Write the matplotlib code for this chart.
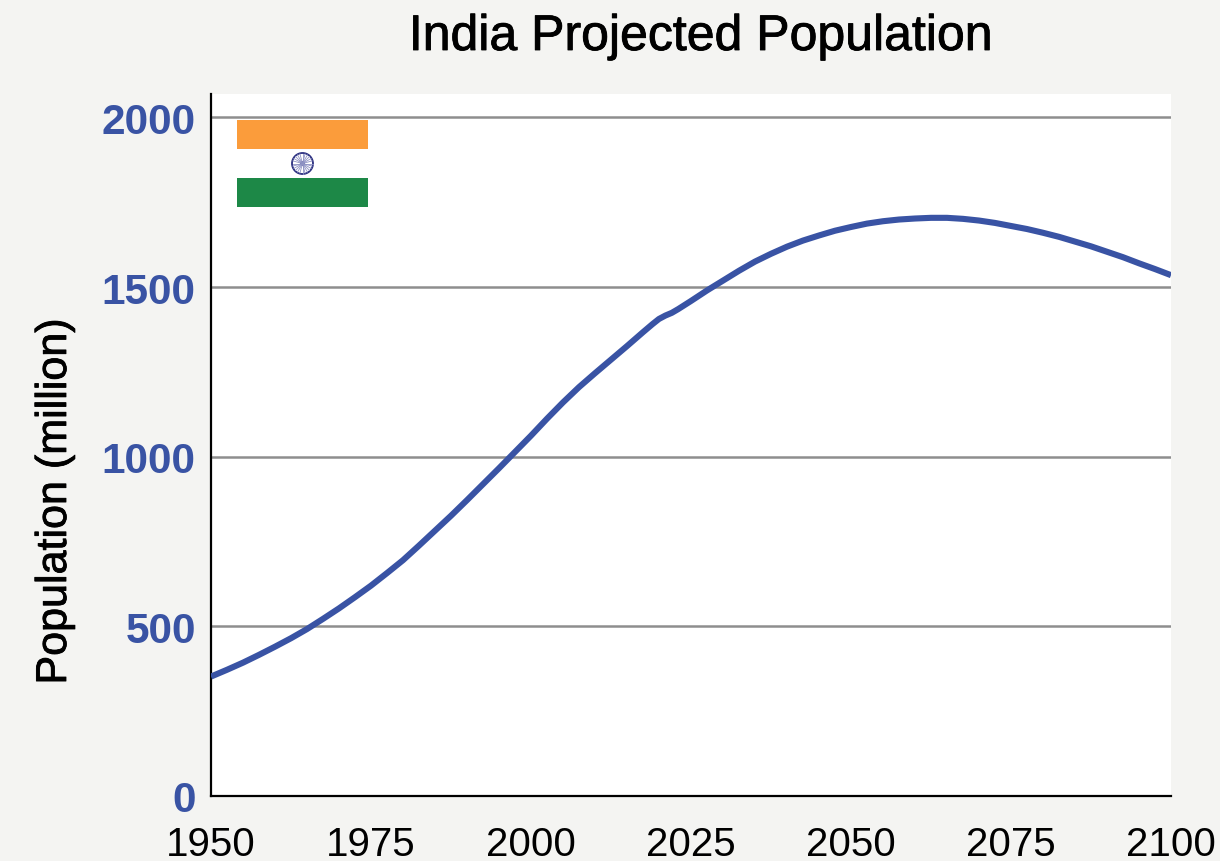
import matplotlib
matplotlib.use("Agg")
import matplotlib.pyplot as plt
import matplotlib.patheffects as pe
from matplotlib.patches import Rectangle, Circle
import numpy as np

years = [1950, 1952.5, 1955, 1957.5, 1960, 1962.5, 1965, 1967.5, 1970, 1972.5, 1975, 1977.5,
         1980, 1982.5, 1985, 1987.5, 1990, 1992.5, 1995, 1997.5, 2000, 2002.5, 2005, 2007.5,
         2010, 2012.5, 2015, 2017.5, 2019, 2020, 2021, 2022, 2023, 2025, 2027.5, 2030, 2032.5,
         2035, 2037.5, 2040, 2042.5, 2045, 2047.5, 2050, 2052.5, 2055, 2057.5, 2060, 2062.5,
         2065, 2067.5, 2070, 2072.5, 2075, 2077.5, 2080, 2082.5, 2085, 2087.5, 2090, 2092.5,
         2095, 2097.5, 2100]
population = [352, 372, 393, 416, 440, 465, 492, 522, 553, 586, 620, 657,
              695, 738, 782, 826, 872, 919, 966, 1014, 1062, 1112, 1160, 1205,
              1246, 1286, 1326, 1367, 1391, 1406, 1416, 1424, 1435, 1459, 1490, 1519, 1548,
              1575, 1598, 1619, 1637, 1652, 1666, 1677, 1687, 1694, 1699, 1702, 1704,
              1704, 1701, 1696, 1689, 1680, 1671, 1660, 1648, 1634, 1620, 1604, 1588,
              1570, 1553, 1535]
x_ticks = [1950, 1975, 2000, 2025, 2050, 2075, 2100]
y_ticks = [0, 500, 1000, 1500, 2000]
grid_values = [500, 1000, 1500, 2000]
flag_stripes = ["#FB9C3B", "#FFFFFF", "#1D8847"]

BLUE = "#3953A4"
W, H = 1220, 862
plt.rcParams["font.family"] = ["Liberation Sans", "DejaVu Sans"]

fig = plt.figure(figsize=(W / 100, H / 100), dpi=100, facecolor="#F4F4F2")
ax = fig.add_axes([211 / W, 1 - 797 / H, 960 / W, 702 / H], facecolor="white")

for v in grid_values:
    ax.axhline(v, color="#8E8E8E", lw=1.8, zorder=1)

ax.plot(years, population, color=BLUE, lw=4.4, zorder=3, solid_capstyle="butt", solid_joinstyle="round")

ax.set_xlim(1950, 2100)
ax.set_ylim(0, 702 / 0.3393)
ax.set_xticks(x_ticks)
ax.set_yticks(y_ticks)
ax.tick_params(axis="both", length=0)
ax.tick_params(axis="x", pad=21, labelsize=29, labelcolor="black")
ax.tick_params(axis="y", pad=11, labelsize=30.5, labelcolor=BLUE)
for lbl in ax.get_yticklabels():
    lbl.set_fontweight("bold")
for s in ("top", "right"):
    ax.spines[s].set_visible(False)
for s in ("left", "bottom"):
    ax.spines[s].set_linewidth(1.6)
    ax.spines[s].set_color("black")

medium = [pe.withStroke(linewidth=0.6, foreground="black")]
fig.text(701 / W, 1 - 38 / H, "India Projected Population", ha="center", va="center",
         fontsize=36, color="black", path_effects=medium)
fig.text(55 / W, 1 - 503 / H, "Population (million)", ha="center", va="center",
         rotation=90, fontsize=31, color="black", path_effects=medium)

# Flag inset
fx = fig.add_axes([237 / W, 1 - 208.5 / H, 131 / W, 88 / H])
fx.set_xlim(0, 131)
fx.set_ylim(0, 88)
fx.axis("off")
for i, c in enumerate(flag_stripes):
    fx.add_patch(Rectangle((0, 88 - (i + 1) * 29.33), 131, 29.33, color=c, lw=0))
cx, cy = 65.5, 44
fx.add_patch(Circle((cx, cy), 10.5, fc="white", ec="#2B2F80", lw=1.3))
for a in np.arange(0, 360, 15):
    r = np.deg2rad(a)
    fx.plot([cx, cx + 10 * np.cos(r)], [cy, cy + 10 * np.sin(r)], color="#8F93C4", lw=0.6)
fx.add_patch(Circle((cx, cy), 2.2, fc="#2B2F80", lw=0))

fig.savefig("out.png", dpi=100, facecolor=fig.get_facecolor())
